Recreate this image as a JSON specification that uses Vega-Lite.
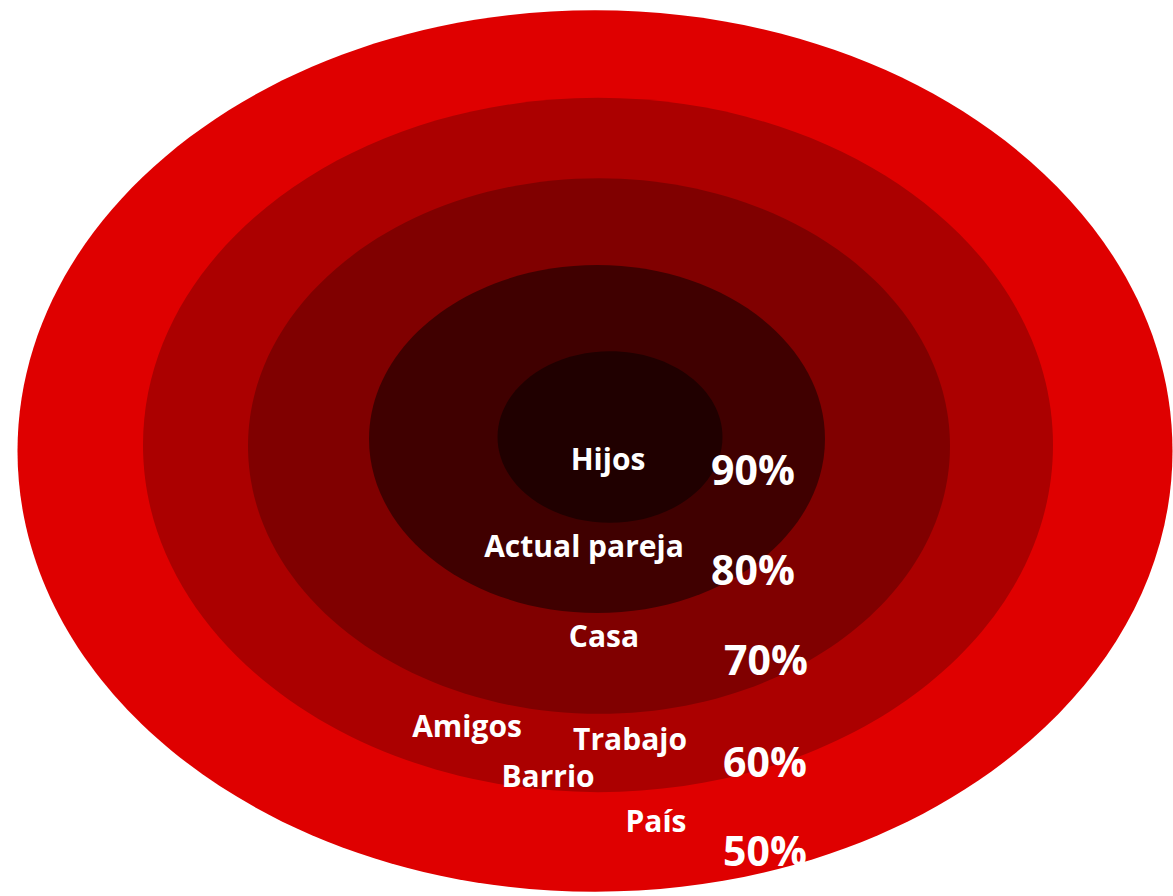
{
  "$schema": "https://vega.github.io/schema/vega-lite/v6.json",
  "width": 1173,
  "height": 896,
  "autosize": {"type": "fit", "contains": "padding"},
  "padding": 0,
  "background": "white",
  "config": {"view": {"stroke": null}},
  "datasets": {
    "anillos": [
      {"anillo": "50%", "orden": 1, "cx": 595, "cy": 451, "ancho": 1155},
      {"anillo": "60%", "orden": 2, "cx": 598, "cy": 445, "ancho": 910},
      {"anillo": "70%", "orden": 3, "cx": 599, "cy": 446, "ancho": 702},
      {"anillo": "80%", "orden": 4, "cx": 597, "cy": 439, "ancho": 456},
      {"anillo": "90%", "orden": 5, "cx": 610, "cy": 437, "ancho": 225}
    ],
    "etiquetas": [
      {"texto": "Hijos", "x": 608, "y": 470},
      {"texto": "Actual pareja", "x": 584, "y": 557},
      {"texto": "Casa", "x": 604, "y": 647},
      {"texto": "Amigos", "x": 467, "y": 737},
      {"texto": "Trabajo", "x": 630, "y": 750},
      {"texto": "Barrio", "x": 548, "y": 787},
      {"texto": "País", "x": 656, "y": 832}
    ],
    "porcentajes": [
      {"texto": "90%", "x": 753, "y": 485},
      {"texto": "80%", "x": 753, "y": 585},
      {"texto": "70%", "x": 766, "y": 675},
      {"texto": "60%", "x": 765, "y": 777},
      {"texto": "50%", "x": 765, "y": 866}
    ]
  },
  "layer": [
    {
      "data": {"name": "anillos"},
      "mark": {
        "type": "point",
        "shape": "M -1 0 C -1 -0.4214 -0.5523 -0.763 0 -0.763 C 0.5523 -0.763 1 -0.4214 1 0 C 1 0.4214 0.5523 0.763 0 0.763 C -0.5523 0.763 -1 0.4214 -1 0 Z",
        "filled": true,
        "opacity": 1,
        "strokeWidth": 0
      },
      "encoding": {
        "x": {"field": "cx", "type": "quantitative", "scale": {"domain": [0, 1173], "nice": false, "zero": false}, "axis": null},
        "y": {"field": "cy", "type": "quantitative", "scale": {"domain": [0, 896], "nice": false, "zero": false, "reverse": true}, "axis": null},
        "size": {
          "field": "ancho",
          "type": "quantitative",
          "scale": {"type": "pow", "exponent": 2, "domain": [0, 1173], "range": [0, 1375929]},
          "legend": null
        },
        "color": {
          "field": "anillo",
          "type": "nominal",
          "scale": {
            "domain": ["50%", "60%", "70%", "80%", "90%"],
            "range": ["#DF0000", "#AB0000", "#800000", "#400000", "#200000"]
          },
          "legend": null
        },
        "order": {"field": "orden", "type": "quantitative"}
      }
    },
    {
      "data": {"name": "etiquetas"},
      "mark": {"type": "text", "font": "Open Sans", "fontWeight": "bold", "fontSize": 30, "color": "white", "align": "center", "baseline": "alphabetic"},
      "encoding": {
        "x": {"field": "x", "type": "quantitative"},
        "y": {"field": "y", "type": "quantitative"},
        "text": {"field": "texto"}
      }
    },
    {
      "data": {"name": "porcentajes"},
      "mark": {"type": "text", "font": "Open Sans", "fontWeight": "bold", "fontSize": 41, "color": "white", "align": "center", "baseline": "alphabetic"},
      "encoding": {
        "x": {"field": "x", "type": "quantitative"},
        "y": {"field": "y", "type": "quantitative"},
        "text": {"field": "texto"}
      }
    }
  ]
}
